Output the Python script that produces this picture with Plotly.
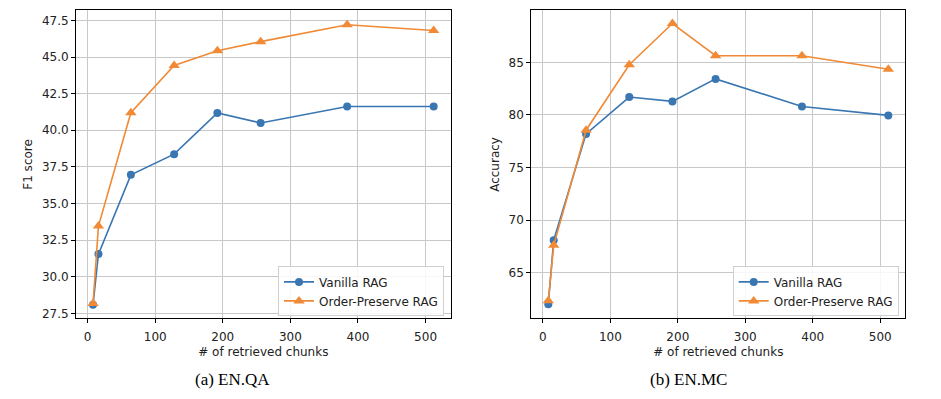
import plotly.graph_objects as go

# ---- data ----
chunks = [8, 16, 64, 128, 192, 256, 384, 512]

enqa_vanilla = [28.1, 31.55, 36.96, 38.37, 41.18, 40.5, 41.62, 41.62]
enqa_order = [28.18, 33.46, 41.2, 44.42, 45.43, 46.05, 47.2, 46.81]

enmc_vanilla = [62.0, 68.09, 78.2, 81.7, 81.29, 83.43, 80.81, 79.96]
enmc_order = [62.32, 67.6, 78.55, 84.78, 88.7, 85.63, 85.63, 84.35]

series_names = ["Vanilla RAG", "Order-Preserve RAG"]
captions = ["(a) EN.QA", "(b) EN.MC"]
y_titles = ["F1 score", "Accuracy"]
x_title = "# of retrieved chunks"

left_yticks = [27.5, 30.0, 32.5, 35.0, 37.5, 40.0, 42.5, 45.0, 47.5]
right_yticks = [65, 70, 75, 80, 85]
xticks = [0, 100, 200, 300, 400, 500]

# ---- style ----
BLUE = "#3a77b2"
ORANGE = "#f08a36"
FONT = "DejaVu Sans"
TXT = "#222222"
GRID = "#c8c8c8"

fig = go.Figure()

def add_pair(xa, ya, leg, v, o):
    fig.add_trace(go.Scatter(
        x=chunks, y=v, name=series_names[0], mode="lines+markers",
        xaxis=xa, yaxis=ya, legend=leg,
        line=dict(color=BLUE, width=1.6),
        marker=dict(symbol="circle", size=8, color=BLUE)))
    fig.add_trace(go.Scatter(
        x=chunks, y=o, name=series_names[1], mode="lines+markers",
        xaxis=xa, yaxis=ya, legend=leg,
        line=dict(color=ORANGE, width=1.6),
        marker=dict(symbol="triangle-up", size=10, color=ORANGE)))

add_pair("x", "y", "legend", enqa_vanilla, enqa_order)
add_pair("x2", "y2", "legend2", enmc_vanilla, enmc_order)

W, H = 941, 399
yd = [1 - 320 / H, 1 - 10.5 / H]

axis_common = dict(
    showline=True, linecolor="black", linewidth=1, mirror=True,
    ticks="outside", ticklen=4, tickwidth=1, tickcolor="black",
    showgrid=True, gridcolor=GRID, gridwidth=1, zeroline=False,
    tickfont=dict(family=FONT, size=12, color=TXT),
)

legend_common = dict(
    bgcolor="rgba(255,255,255,0.85)", bordercolor="#d0d0d0", borderwidth=1,
    font=dict(family=FONT, size=12, color=TXT),
    xanchor="right", yanchor="bottom", xref="paper", yref="paper",
    tracegroupgap=0, itemwidth=30,
)

xt = dict(text=x_title, font=dict(family=FONT, size=12, color=TXT), standoff=4)

fig.update_layout(
    width=W, height=H,
    margin=dict(l=0, r=0, t=0, b=0),
    paper_bgcolor="white", plot_bgcolor="white",
    font=dict(family=FONT, size=12, color=TXT),
    xaxis=dict(domain=[76 / W, 450.7 / W], anchor="y", range=[-17.2, 537.2],
               tickvals=xticks, ticklabelstandoff=3, title=xt, **axis_common),
    yaxis=dict(domain=yd, anchor="x", range=[27.16, 48.18],
               tickvals=left_yticks, tickformat=".1f",
               title=dict(text=y_titles[0], font=dict(family=FONT, size=12, color=TXT), standoff=6),
               **axis_common),
    xaxis2=dict(domain=[531.3 / W, 905.3 / W], anchor="y2", range=[-17.2, 537.2],
                tickvals=xticks, ticklabelstandoff=3, title=xt, **axis_common),
    yaxis2=dict(domain=yd, anchor="x2", range=[60.65, 89.94],
                tickvals=right_yticks,
                title=dict(text=y_titles[1], font=dict(family=FONT, size=12, color=TXT), standoff=6),
                **axis_common),
    legend=dict(x=444 / W, y=1 - 318 / H, **legend_common),
    legend2=dict(x=898.7 / W, y=1 - 318 / H, **legend_common),
    showlegend=True,
)

for cx, txt in zip([232.7 / W, 688 / W], captions):
    fig.add_annotation(
        x=cx, y=1 - 381.7 / H, xref="paper", yref="paper",
        text=txt, showarrow=False, xanchor="center", yanchor="middle",
        font=dict(family="Liberation Serif", size=17, color="black"))

fig.write_html(
    "out.html",
    config={"displayModeBar": False},
    post_script="document.body.style.margin='0px';document.body.style.overflow='hidden';",
)
